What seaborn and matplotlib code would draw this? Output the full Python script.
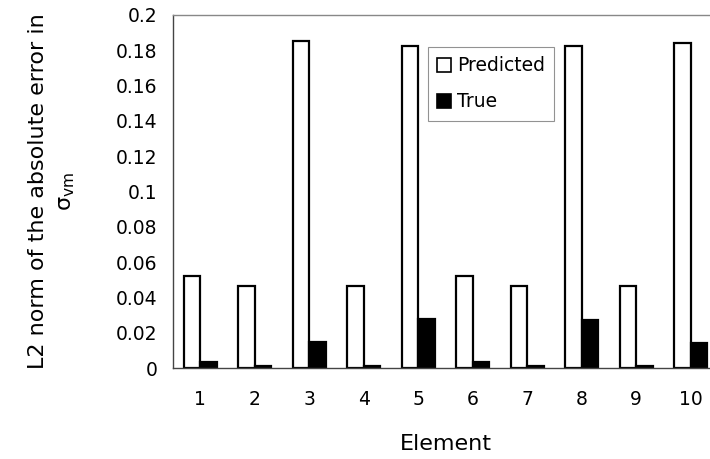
import pandas as pd
import matplotlib.pyplot as plt
import seaborn as sns

# values
elements = ["1", "2", "3", "4", "5", "6", "7", "8", "9", "10"]
predicted = [0.0523, 0.0467, 0.185, 0.0467, 0.1826, 0.052, 0.0467, 0.1824, 0.0463, 0.1843]
true_err = [0.0035, 0.0013, 0.0148, 0.0013, 0.0275, 0.0035, 0.001, 0.027, 0.0009, 0.014]
y_ticks = [0, 0.02, 0.04, 0.06, 0.08, 0.1, 0.12, 0.14, 0.16, 0.18, 0.2]
y_tick_labels = ["0", "0.02", "0.04", "0.06", "0.08", "0.1", "0.12", "0.14", "0.16", "0.18", "0.2"]

df = pd.DataFrame({
    "Element": elements * 2,
    "value": predicted + true_err,
    "series": ["Predicted"] * len(elements) + ["True"] * len(elements),
})

sns.set_style("white")
plt.rcParams["font.family"] = ["DejaVu Sans"]
plt.rcParams["mathtext.fontset"] = "dejavusans"
plt.rcParams["text.color"] = "black"
plt.rcParams["axes.labelcolor"] = "black"
plt.rcParams["xtick.color"] = "black"
plt.rcParams["ytick.color"] = "black"

fig = plt.figure(figsize=(7.1, 4.59), dpi=100)
# plot area runs slightly past the right edge, as in the reference crop
ax = fig.add_axes([173 / 710, (459 - 368) / 459, (718 - 173) / 710, (368 - 15) / 459])

sns.barplot(data=df, x="Element", y="value", hue="series",
            palette={"Predicted": "white", "True": "black"},
            edgecolor="black", linewidth=1.6, width=0.6, gap=0,
            ax=ax, legend=False)

ax.set_ylim(0, 0.2)
ax.set_xlim(-0.5, len(elements) - 0.5)
ax.set_yticks(y_ticks)
ax.set_yticklabels(y_tick_labels, fontsize=13.5)
ax.tick_params(axis="y", direction="out", length=5, width=0.8, color="#555555", pad=6)

# x ticks sit on category boundaries, labels at centres
ax.set_xticks(range(len(elements)))
ax.set_xticklabels(elements, fontsize=13.5)
ax.set_xticks([i - 0.5 for i in range(len(elements) + 1)], minor=True)
ax.tick_params(axis="x", which="major", length=0, pad=16)
ax.tick_params(axis="x", which="minor", direction="out", length=5, width=0.8, color="#555555")

for side in ["left", "bottom"]:
    ax.spines[side].set_color("#444444")
    ax.spines[side].set_linewidth(1.0)
ax.spines["top"].set_color("#888888")
ax.spines["top"].set_linewidth(1.0)
ax.spines["right"].set_visible(False)

ax.set_xlabel("Element", fontsize=16, labelpad=18)
ax.set_ylabel("L2 norm of the absolute error in\nσ$_{\\mathrm{vm}}$", fontsize=16,
              labelpad=28, linespacing=1.5)

handles = [plt.Rectangle((0, 0), 1, 1, facecolor="white", edgecolor="black", linewidth=1.2),
           plt.Rectangle((0, 0), 1, 1, facecolor="black", edgecolor="black", linewidth=1.2)]
leg = ax.legend(handles, ["Predicted", "True"], loc="upper left",
                bbox_to_anchor=(0.468, 0.909), borderaxespad=0, fontsize=13.5,
                frameon=True, fancybox=False, handlelength=0.75, handleheight=0.75,
                handletextpad=0.3, labelspacing=0.9, borderpad=0.5)
leg.get_frame().set_edgecolor("#777777")
leg.get_frame().set_linewidth(0.8)

fig.savefig("out.png", dpi=100)
